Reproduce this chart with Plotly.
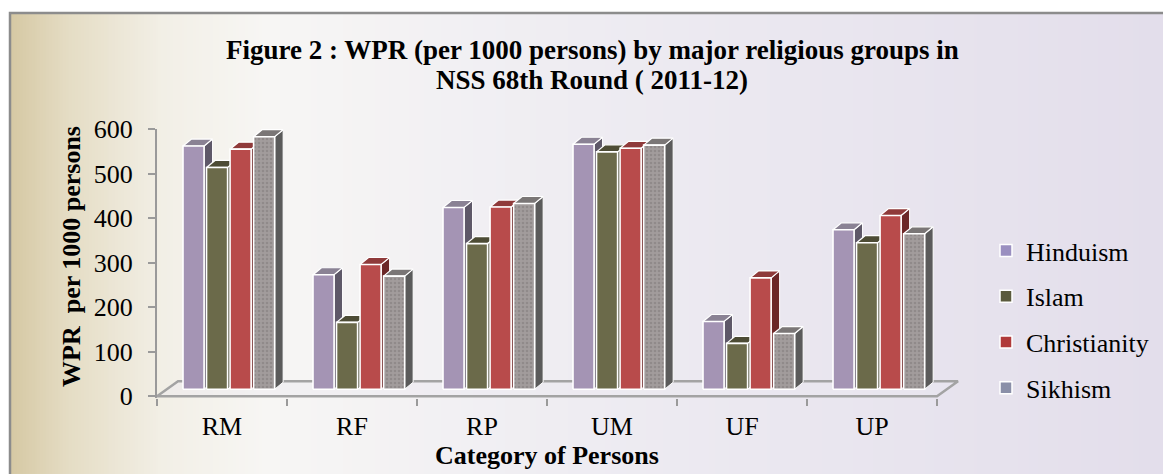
import base64, struct, zlib
import plotly.graph_objects as go

# ---------------- data ----------------
categories = ["RM", "RF", "RP", "UM", "UF", "UP"]
hinduism = [546, 257, 408, 550, 152, 358]
islam = [498, 150, 327, 533, 103, 329]
christianity = [539, 280, 409, 541, 250, 390]
sikhism = [567, 254, 417, 548, 125, 349]
series_names = ["Hinduism", "Islam", "Christianity", "Sikhism"]
y_ticks = [0, 100, 200, 300, 400, 500, 600]

# ---------------- styling ----------------
FONT = "Liberation Serif"
W, H = 1163, 474
L, T = 157, 129
XR = [-0.5, 5.7]
YR = [-4, 600]
PX_PER_X = 130.0
PX_PER_Y = 0.4454
PW = (XR[1] - XR[0]) * PX_PER_X
PH = (YR[1] - YR[0]) * PX_PER_Y
R = W - L - PW
B = H - T - PH
BOTTOM = T + PH

# bar geometry (category units / value units)
OFF0, STEP, BW = -0.30, 0.181, 0.162
DX = 8.5 / PX_PER_X
DY = 7.0 / PX_PER_Y
BASE = DY
FLOOR_DX = 21 / PX_PER_X
FLOOR_DY = 15 / PX_PER_Y

front_cols = ["#a494b4", "#6b6a4a", "#b84b4b", "#9e9898"]
top_cols = ["#8a8294", "#4d4c35", "#8f3a3a", "#7a7676"]
side_cols = ["#5e5868", "#3f3e2a", "#6c2727", "#5b5b5b"]
legend_cols = ["#9a8fc0", "#5a5a3c", "#b03a3a", "#8a8fa8"]


def px_x(px):
    return (px - L) / PW


def px_y(py):
    return (BOTTOM - py) / PH


def png_uri(stops, width=400):
    row = []
    for i in range(width):
        f = i / (width - 1)
        for k in range(len(stops) - 1):
            p0, c0 = stops[k]
            p1, c1 = stops[k + 1]
            if p0 <= f <= p1:
                t = (f - p0) / (p1 - p0) if p1 > p0 else 0
                row.extend(int(round(c0[m] + (c1[m] - c0[m]) * t)) for m in range(3))
                break
    raw = b"\x00" + bytes(row)

    def chunk(tag, data):
        c = struct.pack(">I", len(data)) + tag + data
        return c + struct.pack(">I", zlib.crc32(tag + data) & 0xFFFFFFFF)

    png = b"\x89PNG\r\n\x1a\n"
    png += chunk(b"IHDR", struct.pack(">IIBBBBB", width, 1, 8, 2, 0, 0, 0))
    png += chunk(b"IDAT", zlib.compress(raw))
    png += chunk(b"IEND", b"")
    return "data:image/png;base64," + base64.b64encode(png).decode()


bg_stops = [
    (0.0, (214, 201, 164)),
    (0.05, (229, 221, 197)),
    (0.13, (242, 239, 230)),
    (0.22, (247, 246, 244)),
    (0.5, (238, 236, 242)),
    (1.0, (227, 222, 235)),
]

fig = go.Figure()

# floor
fx = [XR[0], 5.5, 5.5 + FLOOR_DX, XR[0] + FLOOR_DX, XR[0]]
fy = [0, 0, FLOOR_DY, FLOOR_DY, 0]
fig.add_trace(go.Scatter(x=fx, y=fy, mode="lines", fill="toself",
                         fillcolor="rgba(235,233,240,0.4)",
                         line=dict(color="#a3a3a3", width=2.5),
                         showlegend=False, hoverinfo="skip"))

all_series = [hinduism, islam, christianity, sikhism]
for j, vals in enumerate(all_series):
    sx, sy, tx, ty, fxs, fys = [], [], [], [], [], []
    for i, v in enumerate(vals):
        xl = i + OFF0 + j * STEP
        xr = xl + BW
        top = v + BASE
        fxs += [xl, xr, xr, xl, xl, None]
        fys += [BASE, BASE, top, top, BASE, None]
        tx += [xl, xr, xr + DX, xl + DX, xl, None]
        ty += [top, top, top + DY, top + DY, top, None]
        sx += [xr, xr + DX, xr + DX, xr, xr, None]
        sy += [BASE, BASE + DY, top + DY, top, BASE, None]
    fig.add_trace(go.Scatter(x=sx, y=sy, mode="lines", fill="toself",
                             fillcolor=side_cols[j], line=dict(color="white", width=1),
                             showlegend=False, hoverinfo="skip"))
    fig.add_trace(go.Scatter(x=tx, y=ty, mode="lines", fill="toself",
                             fillcolor=top_cols[j], line=dict(color="white", width=1.2),
                             showlegend=False, hoverinfo="skip"))
    fp = None
    if j == 3:
        fp = dict(shape=".", bgcolor="#a29c9c", fgcolor="#7e7878", size=4, solidity=0.35)
    fig.add_trace(go.Scatter(x=fxs, y=fys, mode="lines", fill="toself",
                             fillcolor=front_cols[j], fillpattern=fp,
                             line=dict(color="white", width=1.6),
                             showlegend=False, hoverinfo="skip"))

for j, name in enumerate(series_names):
    fig.add_trace(go.Scatter(x=[None], y=[None], mode="markers", name=name,
                             legendgroup=name,
                             marker=dict(symbol="square", size=12, color=legend_cols[j],
                                         line=dict(color="white", width=1.5))))

fig.update_layout(
    width=W, height=H, autosize=False,
    margin=dict(l=L, r=R, t=T, b=B, pad=0, autoexpand=False),
    paper_bgcolor="white", plot_bgcolor="rgba(0,0,0,0)",
    font=dict(family=FONT, size=26, color="black"),
    showlegend=True,
    legend=dict(x=px_x(986), y=px_y(227), xanchor="left", yanchor="top",
                bgcolor="rgba(0,0,0,0)", font=dict(size=26, family=FONT, color="black"),
                tracegroupgap=9, itemwidth=30),
    xaxis=dict(range=XR, tickvals=list(range(len(categories))), ticktext=categories,
               ticks="", showgrid=False, zeroline=False, showline=False,
               tickfont=dict(size=26, family=FONT), ticklabelstandoff=10,
               minor=dict(tickmode="linear", tick0=-0.5, dtick=1, ticks="outside",
                          ticklen=7, tickwidth=2, tickcolor="#9a9a9a", showgrid=False)),
    yaxis=dict(range=YR, tickvals=y_ticks, ticks="outside", ticklen=7, tickwidth=2,
               tickcolor="#9a9a9a", showline=True, linecolor="#9a9a9a", linewidth=2,
               showgrid=False, zeroline=False, tickfont=dict(size=26, family=FONT),
               ticklabelstandoff=10),
    images=[dict(source=png_uri(bg_stops), xref="paper", yref="paper",
                 x=px_x(10), y=px_y(13), sizex=(W - 10) / PW, sizey=(H - 13) / PH,
                 sizing="stretch", xanchor="left", yanchor="top", layer="below")],
    shapes=[dict(type="rect", xref="paper", yref="paper",
                 x0=px_x(10), x1=px_x(W + 5), y0=px_y(H + 5), y1=px_y(13),
                 line=dict(color="#8c8c8c", width=2.5), fillcolor="rgba(0,0,0,0)")],
    annotations=[
        dict(text="<b>Figure 2 : WPR (per 1000 persons) by major religious groups in</b>",
             xref="paper", yref="paper", x=px_x(592), y=px_y(50), xanchor="center",
             yanchor="middle", showarrow=False, font=dict(size=27, family=FONT)),
        dict(text="<b>NSS 68th Round ( 2011-12)</b>",
             xref="paper", yref="paper", x=px_x(592), y=px_y(80), xanchor="center",
             yanchor="middle", showarrow=False, font=dict(size=27, family=FONT)),
        dict(text="<b>WPR\u00a0 per 1000 persons</b>", textangle=-90,
             xref="paper", yref="paper", x=px_x(72), y=px_y(257), xanchor="center",
             yanchor="middle", showarrow=False, font=dict(size=26, family=FONT)),
        dict(text="<b>Category of Persons</b>",
             xref="paper", yref="paper", x=px_x(547), y=px_y(456), xanchor="center",
             yanchor="middle", showarrow=False, font=dict(size=26, family=FONT)),
    ],
)

fig.write_html("out.html", config={"displayModeBar": False},
               post_script="document.body.style.margin='0';document.body.style.overflow='hidden';")
